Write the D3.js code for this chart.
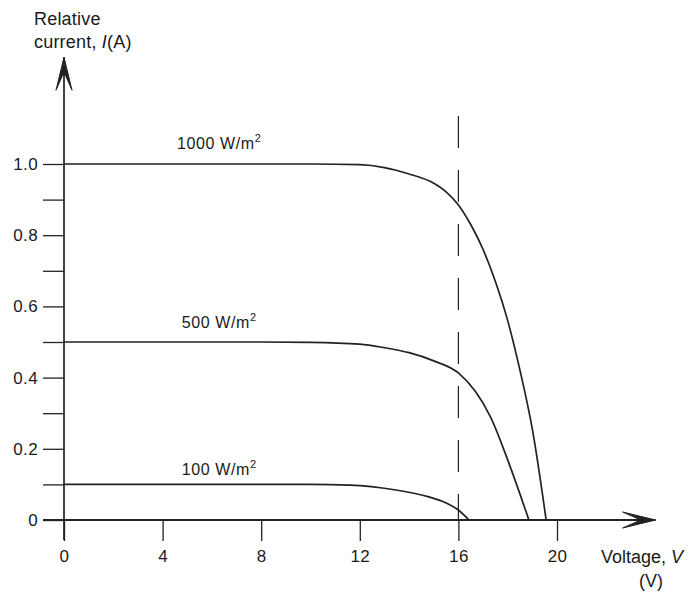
<!DOCTYPE html>
<html>
<head>
<meta charset="utf-8">
<script src="https://cdn.jsdelivr.net/npm/d3@7"></script>
<style>
  html, body { margin: 0; padding: 0; background: #fff; }
  text { font-family: "Liberation Sans", Arial, sans-serif; fill: #1a1a1a; }
</style>
</head>
<body>
<script>

// I-V curves of a solar module at three irradiance levels
var voltage1000 = [0, 4, 8, 10, 12, 13, 14, 15, 15.5, 16, 16.5, 17, 17.5, 18, 18.5, 19, 19.56];
var current1000 = [1.0, 1.0, 1.0, 1.0, 0.998, 0.99, 0.972, 0.946, 0.922, 0.885, 0.83, 0.76, 0.67, 0.56, 0.42, 0.255, 0];

var voltage500 = [0, 4, 8, 10, 12, 13, 14, 15, 16, 16.7, 17.3, 18.1, 18.86];
var current500 = [0.5, 0.5, 0.5, 0.499, 0.494, 0.484, 0.47, 0.447, 0.413, 0.36, 0.29, 0.15, 0];

var voltage100 = [0, 4, 8, 10, 11.6, 13.4, 14.8, 15.5, 16, 16.43];
var current100 = [0.1, 0.1, 0.1, 0.1, 0.098, 0.085, 0.065, 0.048, 0.028, 0];

var seriesNames = ["1000 W/m", "500 W/m", "100 W/m"];

var xTicks = [0, 4, 8, 12, 16, 20];
var yTicks = [0, 0.1, 0.2, 0.3, 0.4, 0.5, 0.6, 0.7, 0.8, 0.9, 1.0];
var yTickLabels = ["0", "", "0.2", "", "0.4", "", "0.6", "", "0.8", "", "1.0"];

var markerVoltage = 16;   // dashed line

var width = 694, height = 596;

var svg = d3.select('body')
  .append('svg')
  .attr('width', width)
  .attr('height', height);

var x = d3.scaleLinear().domain([0, 20]).range([64, 557]);
var y = d3.scaleLinear().domain([0, 1]).range([520, 164]);

var ink = '#222';

// axes (ticks only, the long lines are drawn below)
var xAxis = d3.axisBottom(x)
  .tickValues(xTicks)
  .tickSize(21)
  .tickPadding(7)
  .tickFormat(d3.format('d'));

var yAxis = d3.axisLeft(y)
  .tickValues(yTicks)
  .tickSize(21)
  .tickPadding(5)
  .tickFormat(function(d, i) { return yTickLabels[i]; });

var gx = svg.append('g')
  .attr('transform', 'translate(0,' + y(0) + ')')
  .call(xAxis);
var gy = svg.append('g')
  .attr('transform', 'translate(' + x(0) + ',0)')
  .call(yAxis);

[gx, gy].forEach(function(g) {
  g.select('.domain').remove();
  g.selectAll('.tick line').attr('stroke', ink).attr('stroke-width', 1.3);
  g.selectAll('.tick text')
    .style('font-size', '17px')
    .style('letter-spacing', '0.4px')
    .attr('fill', '#1a1a1a');
});
gx.selectAll('.tick text').attr('dy', '0.85em');

// main axis lines
svg.append('line')
  .attr('x1', x(0)).attr('x2', x(0))
  .attr('y1', y(-0.056)).attr('y2', y(1.3))
  .attr('stroke', ink).attr('stroke-width', 1.7);
svg.append('line')
  .attr('x1', x(-0.85)).attr('x2', x(24))
  .attr('y1', y(0)).attr('y2', y(0))
  .attr('stroke', ink).attr('stroke-width', 2);

// arrow heads
function arrow(tx, ty, angle) {
  svg.append('path')
    .attr('d', 'M0,0 L-8,33 L-1,17 L1,17 L8,33 Z')
    .attr('transform', 'translate(' + tx + ',' + ty + ') rotate(' + angle + ')')
    .attr('fill', ink)
    .attr('stroke', ink)
    .attr('stroke-width', 1)
    .attr('stroke-linejoin', 'round');
}
arrow(x(0), y(1.3), 0);
arrow(x(24), y(0), 90);

// dashed line at 16 V
svg.append('line')
  .attr('x1', x(markerVoltage)).attr('x2', x(markerVoltage))
  .attr('y1', y(1.135)).attr('y2', y(0))
  .attr('stroke', ink)
  .attr('stroke-width', 1.2)
  .attr('stroke-dasharray', '32,22');

// curves
var line = d3.line()
  .x(function(d) { return x(d[0]); })
  .y(function(d) { return y(d[1]); })
  .curve(d3.curveMonotoneX);

var curves = [
  d3.zip(voltage1000, current1000),
  d3.zip(voltage500, current500),
  d3.zip(voltage100, current100)
];

svg.selectAll('path.curve')
  .data(curves)
  .enter()
  .append('path')
  .attr('class', 'curve')
  .attr('d', line)
  .attr('fill', 'none')
  .attr('stroke', ink)
  .attr('stroke-width', 1.7);

// curve labels
var labelY = [1.0, 0.5, 0.1];
var labelLift = [15, 14, 9];
seriesNames.forEach(function(name, i) {
  var t = svg.append('text')
    .attr('x', x(6.3))
    .attr('y', y(labelY[i]) - labelLift[i])
    .attr('text-anchor', 'middle')
    .style('font-size', '16px')
    .style('letter-spacing', '0.6px');
  t.append('tspan').text(name);
  t.append('tspan').text('2').attr('dy', -7).style('font-size', '11px');
});

// axis titles
var yTitle = svg.append('g').style('font-size', '18px').style('letter-spacing', '0.2px');
yTitle.append('text').attr('x', 34).attr('y', 25).text('Relative');
var ct = yTitle.append('text').attr('x', 34).attr('y', 48);
ct.append('tspan').text('current, ');
ct.append('tspan').text('I').style('font-style', 'italic');
ct.append('tspan').text('(A)');

var xt = svg.append('text')
  .attr('x', 601).attr('y', 563)
  .style('font-size', '18px');
xt.append('tspan').text('Voltage, ');
xt.append('tspan').text('V').style('font-style', 'italic');
svg.append('text')
  .attr('x', 651).attr('y', 587)
  .attr('text-anchor', 'middle')
  .style('font-size', '18px')
  .text('(V)');

</script>
</body>
</html>
